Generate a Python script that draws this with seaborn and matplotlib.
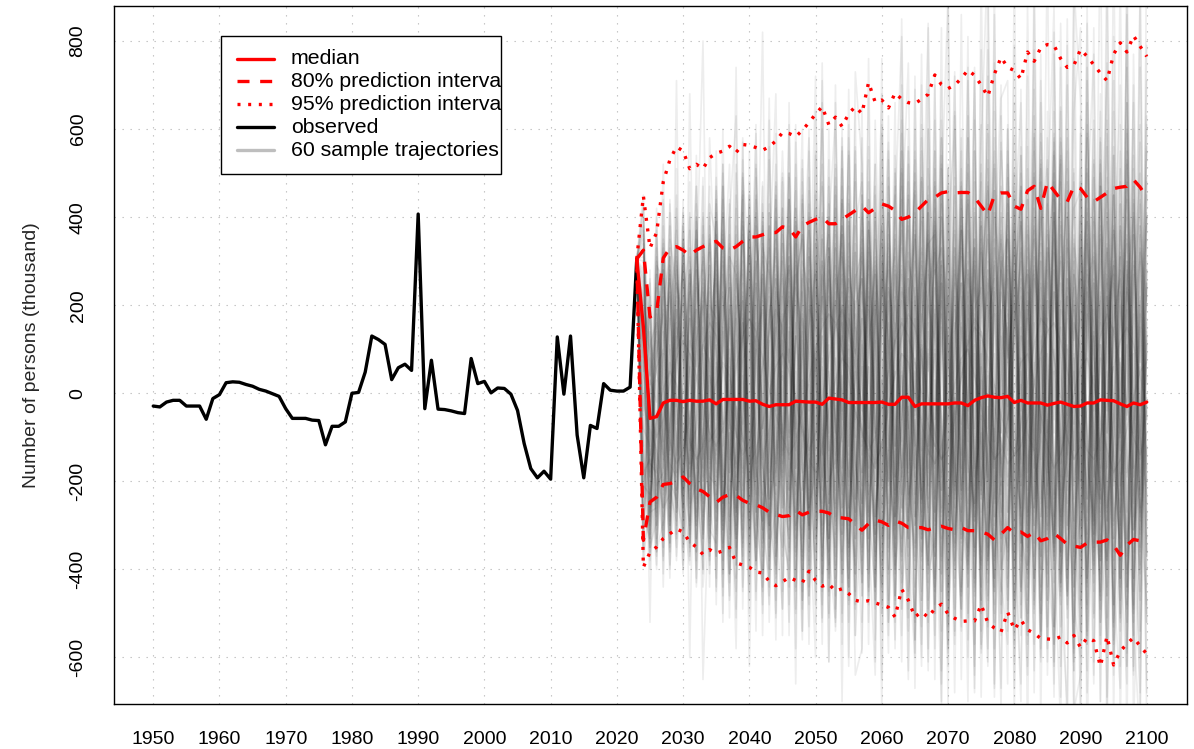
import numpy as np
import pandas as pd
import matplotlib
matplotlib.use("Agg")
import matplotlib.pyplot as plt
import seaborn as sns
from matplotlib.patches import Rectangle
from matplotlib.lines import Line2D

# ---------------------------------------------------------------- data
# Net migration, thousands of persons
obs_years = list(range(1950, 2024))
observed = [-29, -31, -20, -16, -16, -29, -29, -29, -59, -12,
            -3, 24, 26, 25, 20, 16, 9, 5, -1, -7,
            -35, -57, -57, -57, -61, -62, -117, -75, -75, -65,
            0, 2, 48, 130, 122, 111, 31, 58, 66, 52,
            407, -35, 75, -36, -37, -40, -44, -46, 79, 22,
            27, 1, 12, 11, -2, -39, -114, -171, -192, -177,
            -195, 128, -2, 130, -95, -192, -73, -80, 22, 7,
            5, 5, 14, 305]

proj_years = list(range(2024, 2101))
median = [150, -57, -53, -22, -16, -16, -19, -16, -18, -18, -15,
          -24, -14, -14, -14, -14, -18, -17, -25, -30, -26, -26,
          -26, -18, -19, -20, -20, -25, -11, -13, -15, -21, -21,
          -21, -21, -21, -20, -25, -25, -9, -9, -30, -24, -24,
          -24, -24, -24, -22, -22, -28, -16, -10, -6, -9, -10,
          -7, -21, -16, -22, -22, -22, -27, -23, -20, -25, -30,
          -29, -22, -22, -15, -16, -17, -24, -30, -22, -26, -20]
pi80_upper = [325, 173, 185, 307, 330, 333, 325, 313, 325, 333, 340,
              345, 330, 325, 333, 345, 355, 355, 360, 365, 365, 378,
              375, 355, 380, 388, 395, 400, 385, 385, 395, 405, 415,
              425, 410, 420, 430, 425, 415, 395, 400, 410, 425, 440,
              445, 455, 458, 455, 456, 456, 445, 425, 405, 450, 455,
              455, 425, 418, 460, 470, 420, 480, 460, 440, 435, 470,
              465, 445, 435, 445, 455, 465, 468, 470, 485, 468, 445]
pi80_lower = [-334, -247, -236, -207, -205, -200, -190, -205, -217, -223, -235,
              -248, -236, -230, -232, -243, -250, -253, -260, -270, -275, -280,
              -278, -266, -276, -270, -268, -268, -272, -282, -283, -285, -298,
              -311, -296, -288, -292, -300, -290, -295, -305, -305, -305, -310,
              -305, -302, -307, -310, -305, -312, -312, -315, -320, -333, -320,
              -305, -318, -315, -325, -316, -335, -330, -318, -330, -343, -347,
              -350, -340, -338, -338, -333, -345, -368, -345, -332, -335, -338]
pi95_upper = [448, 330, 365, 480, 530, 560, 550, 510, 520, 510, 535,
              545, 550, 561, 547, 565, 563, 558, 552, 560, 573, 592,
              590, 583, 597, 615, 634, 651, 610, 627, 606, 635, 651,
              635, 706, 661, 666, 648, 682, 668, 660, 658, 668, 679,
              723, 701, 692, 700, 715, 734, 722, 700, 674, 725, 763,
              740, 733, 714, 775, 754, 785, 792, 790, 760, 740, 745,
              781, 765, 746, 727, 710, 770, 796, 775, 812, 788, 765]
pi95_lower = [-395, -361, -349, -330, -319, -308, -315, -338, -349, -366, -355,
              -363, -358, -350, -385, -390, -395, -406, -408, -427, -437, -428,
              -418, -425, -430, -404, -425, -438, -433, -449, -444, -455, -470,
              -474, -471, -476, -481, -486, -508, -445, -470, -508, -496, -509,
              -489, -479, -501, -511, -518, -517, -517, -480, -521, -533, -542,
              -497, -537, -515, -537, -545, -557, -558, -559, -553, -567, -550,
              -577, -555, -562, -620, -552, -617, -586, -569, -555, -574, -592]

# Sample trajectories 2024-2100, tens of thousands of persons
trajectories = [
    "-12 25 -30 8 41 -5 -22 17 -40 33 2 | -18 50 -9 -33 12 27 -45 6 38 -21 15 | 44 -8 -27 19 -52 30 3 -16 61 -35 10 | -4 22 -48 37 -13 9 55 -29 -2 26 -61 | 14 40 -19 -7 33 -38 71 -24 5 -50 28 | 12 -31 47 -15 -42 20 8 -66 39 -3 24 | -20 58 -36 11 -9 45 -54 30 2 -27 16",
    "35 -20 -8 22 -14 30 -3 -25 11 40 -17 | 6 -36 24 -10 45 -28 13 -2 -44 29 8 | -15 37 -6 -31 20 52 -23 -9 16 -47 34 | 3 -19 41 -33 12 -58 27 7 -12 49 -26 | 18 -5 -40 63 -21 10 -35 24 46 -17 -8 | 31 -49 15 2 -27 57 -12 -38 21 9 -63 | 36 -14 -29 50 7 -41 23 -6 66 -32 11",
    "18 9 -31 -4 27 -18 35 6 -29 -11 24 | -37 15 31 -22 -6 40 -13 -48 19 3 -26 | 28 -10 45 -35 8 -19 33 -54 12 26 -7 | -43 20 -2 38 -25 16 -11 60 -30 -16 43 | -6 25 -57 14 37 -3 -28 52 -19 -45 30 | 8 21 -34 44 -9 -60 33 12 -22 70 -41 | 5 -24 39 -52 18 29 -11 -37 48 -15 -3",
    "-28 -33 14 31 -9 19 -26 28 3 -15 36 | 12 -19 -41 27 9 -24 51 -16 -31 14 42 | -22 5 -38 26 -13 47 -3 -29 58 -20 2 | 17 -46 23 -8 31 -37 11 44 -24 -53 20 | 39 -18 7 -31 55 -44 16 -6 28 -69 41 | -27 13 50 -39 4 24 -53 35 -16 -4 48 | -33 61 -10 -47 26 -21 43 -58 15 32 -25",
    "42 5 -17 -26 33 -7 12 -37 25 8 -21 | 47 -12 3 -39 18 -27 35 22 -14 -50 11 | 31 -44 17 9 -26 -1 40 -35 23 -12 55 | -30 6 -17 46 -41 29 -20 8 53 -36 14 | -49 27 11 -24 42 -10 -62 19 36 -28 5 | 60 -20 -45 17 29 -7 -32 54 -43 22 1 | -56 34 14 -22 -40 71 -9 27 -48 19 40",
    "8 -26 21 -12 -34 25 17 -8 -22 38 -5 | -16 29 -33 10 38 -4 -20 43 -37 21 -9 | -52 24 36 -17 11 -43 28 -6 -21 39 -30 | 45 -12 -34 20 -3 51 -27 -15 36 -8 -47 | 22 58 -33 -11 25 -50 30 -2 -41 64 -19 | -8 35 -26 -55 40 11 -21 47 -30 -12 27 | 15 -43 52 -17 33 -64 20 -5 41 -29 -12",
    "25 -12 30 15 -21 -14 29 -31 40 -19 7 | 33 -46 19 -8 -28 31 4 -17 56 -24 -35 | 12 46 -20 -39 34 -14 7 52 -45 18 -3 | -21 37 9 -50 24 -35 62 -10 -28 15 34 | -37 5 44 -16 -29 71 -25 3 -52 30 12 | -44 26 39 -18 -2 -37 58 -23 15 -51 34 | 22 -9 -38 47 -26 10 55 -41 -14 36 -20",
    "-5 14 -24 33 -3 -27 10 23 -36 2 29 | -24 8 43 -30 21 -12 -38 27 5 -19 49 | -8 -31 22 58 -27 13 -40 21 -11 31 -49 | 26 -4 -41 30 13 -22 -7 39 -56 27 -14 | 9 -41 31 -21 48 -13 -36 16 59 -38 -6 | 18 -55 7 33 -24 45 -12 -35 65 -16 -40 | -28 46 -19 8 -57 38 -2 30 -45 13 56",
    "30 -8 -13 -20 18 33 -16 5 19 -28 -10 | 16 -29 -5 36 -18 23 41 -33 -9 15 -26 | 38 -17 3 -46 27 -30 60 -14 4 -37 21 | -12 53 -30 -6 41 -19 21 -45 11 33 -39 | 51 -14 -27 36 -7 17 -45 38 -20 2 -55 | 35 9 -30 -64 27 16 -9 41 -36 24 -15 | 48 -34 25 -12 -29 54 -44 19 -3 -36 30",
    "-35 -3 6 10 -30 8 42 -19 -6 24 -33 | 3 37 -22 -14 50 -36 10 -23 30 -4 18 | -28 13 -49 31 5 22 -18 -37 44 -1 -24 | 35 -33 16 53 -20 5 -38 26 -9 -45 60 | -16 30 -50 2 37 -32 11 -23 47 -44 19 | -3 42 -19 27 -48 6 33 -28 -10 55 -36 | 4 27 -51 36 -17 -6 31 -62 43 -23 9",
    "12 20 -36 -9 25 -32 3 31 -14 -24 40 | -31 10 25 -42 7 14 -27 39 -18 44 -13 | 21 -5 -33 15 42 -48 26 -7 -30 58 9 | -38 19 -9 24 -52 40 3 -23 17 -31 47 | -27 62 -9 -38 19 30 -49 8 23 -15 40 | -52 17 26 -33 59 -21 -44 12 30 -7 -58 | 39 -15 -30 64 -38 20 -8 -45 26 50 -33",
    "-18 -15 -27 26 9 -10 -22 14 35 -6 16 | 28 -20 -37 17 -11 45 -6 -31 12 -47 34 | -13 30 8 -26 -18 35 -41 49 -2 -19 27 | 11 -27 45 -39 8 28 -15 -54 36 -2 22 | 33 -22 15 -57 44 -4 24 -31 -12 52 -27 | 28 -36 -8 51 -17 32 -61 23 7 -42 19 | -47 20 8 -24 41 -56 15 34 -19 -8 45",
    "38 -30 12 -17 -6 21 -9 -24 28 13 -36 | -9 41 -15 22 -35 6 30 -12 -40 26 3 | 44 -23 -11 37 -6 -27 13 33 -50 21 -16 | -25 8 31 -20 36 -46 17 -5 48 -33 -10 | 24 -6 -44 28 13 -37 55 -21 -3 -33 63 | -14 45 -38 19 -3 -50 37 15 -28 40 -21 | 12 -54 31 17 -40 25 -13 48 -31 22 -6",
    "2 -35 27 4 -25 12 22 -13 -8 31 -19 | -21 16 34 -8 -29 48 -19 7 24 -33 -7 | -36 14 51 -22 9 -38 -4 27 15 -42 38 | 48 -16 -28 4 21 -9 -41 56 -19 10 -26 | -44 33 20 -13 -51 37 -8 42 -26 18 -9 | 46 -24 13 -47 35 -9 21 -53 43 -14 5 | -21 66 -25 -38 13 29 -47 6 54 -35 17",
    "22 10 -22 35 14 -24 -31 27 -17 -9 23 | 9 -34 20 -26 34 -15 -7 38 -28 12 31 | -19 39 -29 2 -45 24 36 -17 -9 47 -33 | 6 -41 27 12 -30 45 -23 -12 30 -57 35 | 16 -28 51 -34 8 -18 29 -47 35 7 -40 | -31 20 -4 37 -26 53 -14 -36 19 -5 51 | -38 9 44 -31 22 -15 -36 59 -10 -47 28",
    "-39 -22 -4 -14 31 -3 16 -34 12 21 -28 | 36 -10 -43 29 3 -21 24 -35 41 -16 8 | 26 -42 18 -14 31 -8 -33 45 -26 11 -7 | -35 29 -12 -45 18 33 -6 24 -37 42 -18 | 40 -11 -36 47 -23 -3 33 -58 14 29 -16 | -6 33 -51 8 28 -40 46 -18 -37 26 12 | 29 -42 7 53 -27 -12 38 -33 -22 61 -44",
    "15 -6 33 -23 -11 29 -20 9 -27 36 5 | -27 22 8 -35 41 -31 13 19 -10 -39 27 | 7 29 -40 43 -23 17 -11 -30 36 -5 -48 | 23 -8 39 -26 -13 -33 50 -18 5 -22 41 | -30 21 -6 25 -45 50 -19 -9 -38 46 -23 | 41 -14 22 -28 -7 43 -26 57 -45 10 -29 | -13 35 -45 21 -4 45 -28 -52 30 7 38",
    "33 -18 -9 19 -32 15 7 -21 39 -12 -24 | 20 -40 29 -5 -17 37 -26 -42 16 33 -21 | -31 16 -5 -27 54 -37 22 8 -20 30 14 | -46 13 21 -37 28 -4 -26 37 -51 18 5 | 32 -41 14 -22 37 -31 42 -15 4 -52 31 | -19 50 -37 31 -13 -28 9 -40 52 -22 36 | -5 23 -34 38 -58 17 26 -18 44 -39 -1",
    "-22 22 -16 -28 6 33 -13 20 -3 -20 34 | -14 6 -28 45 -22 10 -33 26 -3 18 -45 | 50 -13 27 -36 -12 41 -25 -2 -43 24 -10 | 37 -22 -47 34 9 -12 28 -29 22 -40 16 | -12 46 -28 -5 31 -56 19 24 -33 -4 57 | 24 -26 8 -44 63 -11 -31 28 -9 -46 20 | -31 50 -8 -22 34 -48 61 -14 -33 21 -17",
    "40 -28 7 28 -16 -19 35 -9 -30 15 -2 | 25 -19 40 -32 16 -8 -23 47 -30 -12 22 | -22 34 -47 15 28 -15 -36 19 38 -28 5 | -10 44 -15 27 -40 22 -8 -33 60 -25 -13 | 55 -33 8 19 -27 12 -42 35 -20 41 -36 | 7 -40 32 -20 16 -55 30 48 -24 -15 42 | 46 -27 19 -55 7 30 -21 -7 36 -60 25",
    "-8 -12 -30 12 23 -8 -26 37 -14 -31 18 | -36 31 -6 -17 27 -40 44 -4 -24 39 -19 | 14 -27 6 40 -33 22 -6 -46 27 -14 52 | -28 33 -1 -44 16 -19 40 -6 -34 25 -49 | -23 18 -47 40 -14 28 3 -39 51 -25 13 | -42 37 -16 23 -34 8 -47 39 5 -30 -10 | 19 -11 -41 28 46 -33 -4 40 -28 15 -52",
    "27 15 -19 -33 11 -27 20 -16 31 -4 -29 | 11 -25 17 33 -38 24 -16 -29 35 -7 -32 | -40 21 -18 -10 45 -20 31 -32 -5 38 -24 | 19 -30 47 -18 5 -48 24 15 -23 3 36 | -35 9 33 -42 22 -8 -29 61 -31 -12 28 | 36 -3 -45 17 38 -24 -6 -33 54 -25 -2 | -54 28 15 -36 -15 56 -23 11 -42 33 21",
    "10 -31 18 1 -20 24 -33 12 6 26 -15 | 39 -15 -32 8 21 -45 30 11 -20 -6 40 | 4 -36 30 23 -28 8 -50 34 -17 20 -41 | 41 -9 -20 31 -36 12 33 -49 7 -27 20 | 12 -54 26 -4 -33 44 -17 5 28 -48 35 | -21 15 56 -39 3 30 -18 -53 22 46 -37 | 33 -40 -19 45 -29 6 -51 24 12 -26 48",
    "-31 3 -2 24 -35 10 14 -29 24 -17 32 | -23 44 -12 -27 12 31 -38 5 28 -37 15 | 29 -9 -43 37 -1 -31 19 42 -36 8 -15 | -32 24 -5 -39 49 -28 9 -17 41 -12 -40 | 48 -22 -13 33 -46 20 -35 39 -8 24 -21 | 16 -47 24 -12 -30 52 -39 10 -19 33 -44 | -7 42 -32 11 -46 37 18 -44 27 -10 -36",
    "19 -24 24 -20 17 -14 29 4 -38 11 7 | -32 19 27 -19 -4 36 -21 -37 22 10 -28 | 37 -17 12 -30 24 -45 33 -9 20 -26 32 | -18 39 -32 8 -21 36 -43 26 -5 49 -24 | -8 37 -30 14 25 -39 9 -24 42 -17 -50 | 55 -29 -8 40 -20 -11 36 -27 -48 30 8 | -26 15 49 -38 27 -20 -7 53 -31 -12 24",
    "28 -10 -37 7 29 -3 -18 25 -12 -25 20 | 17 -3 -41 30 -25 17 11 -16 -33 45 -8 | -27 42 -6 -20 34 -12 -28 51 -41 17 9 | 30 -45 16 38 -9 -23 5 -37 27 -6 44 | -29 52 -18 -35 10 45 -21 -5 -39 20 36 | -33 27 -14 -54 31 20 -28 44 -14 -3 -55 | 40 -32 4 -15 39 -53 31 -19 -6 57 -28",
    "5 18 -14 -22 -7 28 9 -34 20 30 -11 | -8 27 -20 12 -34 40 -27 21 -12 -23 37 | 12 -49 23 -33 7 27 -20 -15 43 -29 -3 | -14 6 -38 22 43 -31 -18 52 -28 11 -21 | 19 -26 40 -54 16 -3 33 -47 25 -11 46 | -6 38 -28 12 -49 25 4 -31 48 -38 16 | 10 -48 36 -24 5 -30 43 -11 -55 38 2",
    "-15 -29 9 18 -29 16 -23 8 33 -15 -37 | 43 -30 8 -22 25 -11 -35 34 6 -18 12 | -10 26 35 -41 12 -22 39 -8 -32 22 -46 | 12 -21 30 -50 24 15 -36 3 39 -47 28 | -48 15 -9 45 -32 23 -14 -40 53 -24 4 | 29 -18 46 -30 7 -40 19 55 -33 -9 27 | -20 59 -27 -41 22 -4 -35 28 -17 44 -30",
    "36 -2 27 -11 22 -22 1 -19 -9 23 16 | -19 35 -31 4 16 -29 25 -8 38 -41 -2 | 23 -35 -2 28 -43 36 -13 23 -6 -34 41 | -41 37 -9 -22 33 -12 47 -24 -13 32 -35 | 38 -45 22 -23 -6 58 -29 12 -47 35 -14 | -38 10 33 -22 42 -16 -41 23 -1 60 -24 | 26 -7 -32 47 -37 14 28 -59 18 -22 40",
    "-25 8 -25 31 -13 6 31 -26 -20 9 -30 | 30 -7 20 -37 -10 43 -17 -31 18 27 -23 | -33 11 44 -26 19 -5 -39 29 17 -44 20 | 26 -28 5 44 -35 20 -19 -7 50 -28 9 | -17 29 -39 8 47 -25 -6 33 -15 -42 23 | 13 -52 18 28 -37 -5 47 -24 31 -45 9 | -42 24 11 -27 56 -18 -33 36 -4 -28 13",
    "45 -36 3 -30 38 -18 12 40 -24 -1 27 | -45 21 52 -14 -33 8 59 -22 -48 31 -3 | 61 -19 -36 14 72 -41 5 -28 36 -60 18 | -11 67 -45 29 -4 -56 38 75 -30 12 -52 | 70 -8 -62 33 -24 81 -37 9 -58 46 -15 | -47 66 -21 -3 78 -55 25 -40 84 -16 -61 | 63 -49 30 -70 89 -12 -38 55 -63 74 -21",
    "-38 28 -33 44 -26 51 -35 22 47 -40 58 | 18 -50 40 63 -37 -12 45 -55 29 68 -28 | -42 57 -15 -53 40 22 -61 66 -9 -44 73 | 52 -31 -64 48 10 -47 85 -19 -38 61 -7 | -55 44 91 -27 -49 26 -68 57 100 -42 13 | 38 -73 54 -36 96 -15 -58 40 -24 -77 93 | -30 88 -61 16 -44 102 -35 -66 47 -18 79",
    "14 -33 42 -37 10 -38 44 -35 8 49 -44 | 55 -27 -9 -58 49 30 -39 -6 67 -51 22 | 29 -66 48 -31 -8 60 -45 21 -70 44 -12 | -59 39 16 -72 55 -28 -8 48 -67 27 83 | -21 -70 37 60 -44 -11 74 -59 -35 86 -48 | 60 -28 -66 38 -50 71 -3 -69 58 33 -72 | -64 43 77 -52 -28 64 -76 23 -49 95 -40",
    "31 -17 -40 28 -31 45 -12 -4 -33 19 35 | -10 47 -25 20 -44 -18 38 12 -35 -27 50 | -26 9 60 -38 35 -25 47 -53 14 54 -33 | 45 -52 27 -14 63 -40 -23 30 22 -60 51 | 27 33 -44 -9 58 -51 41 -14 -61 30 70 | -54 22 47 -62 12 40 -31 77 -46 17 -33 | 51 -10 -66 28 71 -38 -19 79 -52 6 -68",
    "-12 -38 -8 52 -22 -29 26 -30 54 -33 -5 | 33 -38 15 -49 57 -33 8 48 -40 40 -14 | 50 -30 -21 55 -16 -52 33 -2 -38 61 -55 | -24 30 -61 40 -33 54 9 -46 69 -21 -39 | 44 -66 18 72 -29 -36 55 -22 43 -67 8 | 23 -41 69 -19 -57 48 -14 -34 64 -56 30 | -45 71 -9 -46 32 -61 48 -2 70 -54 35",
    "9 -4 -10 -6 2 8 12 9 4 -3 -9 | -12 -8 -1 6 13 17 14 8 1 -5 -10 | -14 -11 -4 3 10 15 18 16 10 3 -4 | -9 -13 -10 -3 5 12 16 13 7 0 -7 | -12 -15 -11 -4 4 11 15 13 8 2 -5 | -10 -14 -12 -6 2 9 14 16 12 5 -2 | -8 -13 -15 -10 -2 6 12 15 11 4 -3",
    "20 12 5 -3 -11 -16 -13 -6 3 11 16 | 13 6 -2 -9 -14 -11 -3 6 14 19 15 | 7 -1 -8 -13 -9 -1 8 15 19 14 6 | -3 -11 -16 -12 -4 5 13 18 15 8 -1 | -9 -15 -13 -6 3 12 17 14 6 -3 -11 | -16 -14 -7 2 11 17 15 8 -1 -10 -15 | -12 -4 5 13 18 14 6 -3 -10 -14 -9",
    "-20 -14 -6 1 5 2 -4 -11 -15 -12 -5 | 2 7 4 -3 -10 -16 -13 -7 0 6 9 | 5 -2 -9 -15 -18 -12 -4 3 8 6 -1 | -8 -14 -17 -11 -3 4 9 7 0 -7 -13 | -16 -12 -5 2 8 10 4 -3 -10 -15 -13 | -6 1 7 9 3 -5 -12 -17 -14 -7 0 | 6 8 2 -6 -13 -18 -15 -8 -1 5 7",
    "24 -40 35 -12 -36 22 -27 -39 37 5 -22 | 7 -31 36 -16 28 -50 20 -15 -8 42 -37 | -17 38 -54 24 3 -35 49 -25 32 -9 -41 | 33 -17 52 -32 -15 27 -55 17 -4 39 -28 | -37 51 -16 27 -53 10 35 -48 20 -28 55 | -9 32 -51 60 -26 -7 32 -20 -44 41 -13 | 17 -57 26 -13 49 -33 8 -49 24 43 -50",
    "-2 -9 -21 -18 31 -30 5 28 -21 -37 41 | -29 14 -18 26 5 -37 35 -41 20 -2 -49 | 44 -8 28 -44 -27 13 -9 37 -52 26 19 | -31 48 -21 3 -47 21 37 -12 -40 55 -6 | 10 -31 47 -39 15 -16 -26 48 -37 9 -45 | 49 -20 5 -33 26 -61 43 -9 36 -27 -44 | 33 12 -43 57 -21 -48 37 -27 9 -40 61",
    "16 2 40 -41 15 37 -34 -13 28 -41 13 | -42 52 -3 -31 44 -21 -9 31 -28 -40 36 | -15 -21 39 8 -48 30 -14 -39 55 -17 -27 | 26 -3 -36 61 -18 -30 44 -35 8 -13 45 | -58 25 -3 31 -34 63 -11 -44 26 18 -32 | 15 -46 39 -9 -13 34 -56 21 53 -31 8 | -33 39 -17 -25 62 -29 -15 44 -36 -7 25",
    "39 -27 -26 9 -40 -11 21 33 -43 25 -16 | 27 -22 -46 38 -13 25 -47 15 33 -21 5 | -35 52 -22 -9 27 -43 18 6 -26 34 -12 | -43 10 28 -25 39 -5 -49 22 35 -37 -16 | 28 -7 -52 37 -22 43 -31 6 -19 58 -29 | -35 51 -21 28 -47 13 -30 59 -13 -40 28 | -15 -35 53 -20 -33 15 -42 66 -9 20 -37",
    "-33 11 16 -31 44 1 -41 6 -28 41 -34 | 44 -41 24 -6 -40 35 12 -34 -19 52 -16 | 15 -45 4 46 -31 -8 31 -40 44 -3 -30 | 11 -40 35 -8 -29 50 -17 -3 -56 29 20 | -45 43 9 -16 -38 27 -57 32 11 -45 37 | 7 24 -32 -41 55 -25 17 -43 38 -19 50 | -48 18 -4 35 -51 27 -6 -34 51 -45 12",
    "7 -19 29 26 -17 -35 38 -22 15 -33 4 | -3 30 -36 50 -26 -4 40 -29 -11 23 -43 | 34 -1 -37 20 14 -51 43 -16 -23 39 -6 | 40 -33 12 -54 8 35 -26 45 -10 -38 27 | -24 54 -35 22 -8 -44 48 -27 -14 51 -17 | -40 28 17 -52 37 -4 -36 50 -27 11 -63 | 26 -29 44 -38 16 -57 38 13 -42 30 -14",
    "-21 -23 -11 38 -28 31 -7 -17 40 -8 -41 | 21 -9 10 -27 36 -43 28 37 -46 7 26 | -48 24 15 -33 39 -21 -30 47 -11 -36 48 | -18 27 -44 15 30 -41 55 -33 21 -6 -43 | 37 -19 25 -49 46 -5 -28 38 -53 23 -1 | 35 -57 12 44 -19 -37 28 -6 57 -49 21 | -11 51 -39 22 -9 45 -52 29 -25 -4 55",
    "32 16 -34 -15 7 -22 32 -38 -4 34 -25 | -37 47 -18 -3 -21 28 -16 -9 41 -34 16 | 22 -37 43 -11 -40 35 5 -22 26 -48 32 | -36 44 -7 -30 41 -15 -37 19 46 -24 10 | -12 30 -59 9 40 -22 18 -38 30 -10 -54 | 52 -6 -30 27 -42 59 -18 32 -41 -5 35 | -37 24 32 -57 45 -15 -27 60 -31 -20 41",
    "-10 -34 20 -26 -23 40 -19 17 -33 -14 38 | 12 -25 44 -33 22 -14 -38 41 -5 -28 48 | -9 13 -31 49 -25 6 -46 36 -4 29 -37 | 50 -23 -15 34 -49 14 29 -21 -35 40 -27 | 42 -38 13 -26 51 -41 28 -3 -46 33 18 | -27 47 -44 21 -1 -44 51 -37 20 35 -46 | 44 -42 -7 23 -46 54 -19 -40 36 -10 -23",
    "26 -14 9 34 -39 13 -29 30 11 -36 21 | -44 15 -8 42 -31 37 -25 -45 16 35 -9 | 40 -27 -14 31 -36 19 40 -49 13 -21 56 | -6 32 -49 26 12 -52 23 -8 45 -32 -19 | 20 -48 37 -4 -33 58 -25 43 -22 -37 47 | -13 16 30 -35 49 -28 -11 41 -53 26 -7 | 59 -24 14 -49 33 -3 -30 52 -20 -41 28",
    "-26 1 -28 -6 35 24 -13 -32 33 -20 -3 | 39 -31 17 -39 4 -24 49 -17 -30 24 13 | -29 36 -45 8 30 -32 11 -26 51 -40 7 | 31 -12 19 -43 53 -28 -6 32 -59 16 37 | -50 17 51 -32 -12 32 -44 22 48 -13 -33 | 19 -38 54 -8 -30 12 -47 64 -21 -46 33 | -22 36 -50 18 59 -36 7 -23 -50 47 -6",
    "13 -16 -18 14 -8 -26 41 -5 -25 20 -38 | 26 -7 -29 15 46 -35 -4 27 -24 -17 42 | -44 27 3 -24 46 -10 -33 20 34 -52 15 | -25 41 -32 3 -20 47 -33 12 -25 58 -38 | 3 -27 33 -55 25 -11 40 -50 17 26 -40 | 43 -17 -26 36 -10 -54 21 8 -36 51 -20 | -9 -44 40 -28 -10 37 -62 24 40 -25 -48",
    "43 -32 37 -9 -30 71 -36 41 -30 12 47 | -48 36 -5 -37 58 -20 35 -50 8 48 -27 | 59 -40 26 -57 12 66 -33 -18 47 -62 38 | -46 76 -28 -11 -59 42 81 -37 -60 70 -17 | 55 -63 90 -40 7 -70 62 -23 78 -58 -10 | -66 97 -34 -8 58 -74 42 88 -46 -71 64 | 83 -57 -20 109 -69 36 -42 92 -75 -26 71",
    "-36 -26 25 -44 28 -33 38 -16 47 -44 -22 | 46 -52 31 27 -45 55 -14 -40 62 -30 -49 | -7 49 -54 33 -36 75 -51 8 -41 69 -29 | 58 -44 13 68 -52 -20 59 -63 24 -31 84 | -42 29 -71 73 -17 45 -64 96 -38 -22 67 | 71 -49 38 -77 50 -15 101 -57 -33 79 -48 | -60 74 -35 58 -81 47 -10 86 -53 -79 106",
    "4 -2 -39 21 31 -37 -15 22 37 -27 8 | -13 52 -41 -16 39 11 -54 41 -33 26 -20 | 49 -11 -47 60 -33 -19 53 -42 20 -30 64 | -52 15 52 -35 -16 66 -45 -29 55 10 -63 | 62 -37 -12 49 -65 28 15 -57 72 -30 -20 | -49 35 66 -42 -25 77 -64 5 -29 85 -52 | 47 -68 25 -18 75 -60 -35 66 -9 -72 49",
    "34 4 14 -35 -5 42 -23 -36 19 -32 43 | 35 -17 -24 52 -12 -47 16 -26 53 -42 4 | -38 61 -9 -30 23 -57 38 63 -20 -46 26 | 32 -57 41 -21 47 -9 -61 38 -17 77 -41 | -33 71 -46 16 -22 52 -43 -8 61 -66 34 | 8 -61 43 -27 69 -47 -20 58 -69 40 -14 | -71 12 60 -45 -13 81 -50 35 -64 18 -37",
    "-17 -37 -23 43 -34 17 28 -10 -42 47 -12 | -26 23 -51 34 -7 45 -30 30 -52 13 55 | 17 -50 36 -4 55 -44 -25 33 -57 43 -16 | -31 56 -8 -48 34 -25 67 -6 -44 30 -58 | 47 -16 -58 64 -29 -40 35 -69 18 55 -25 | -36 79 -22 -57 20 51 -38 -57 74 -30 3 | 36 -55 83 -31 -57 22 70 -48 -12 91 -65",
    "21 -52 31 2 -42 34 -31 68 -16 -40 29 | 5 -44 33 -28 17 -31 52 -8 43 -37 -12 | 31 -19 -56 41 -21 29 -8 -51 56 -25 -39 | 65 -36 29 -65 23 -39 51 -27 -6 -47 69 | -65 40 -3 -44 86 -35 -12 50 -43 75 -9 | 46 -22 -55 88 -12 -33 64 -61 -3 58 -77 | 20 41 -64 52 -38 -16 95 -44 29 -59 63",
    "-30 -11 19 -15 26 -13 -40 48 -36 28 -39 | 41 -35 -14 74 -49 20 -40 33 27 -56 30 | -28 39 -17 -48 64 -3 -42 70 -32 10 -55 | 17 -48 62 4 -55 31 -21 -51 72 -24 41 | -27 83 -53 -21 60 -60 33 -36 90 -12 -67 | 26 -31 -70 56 -45 66 -2 -62 25 -48 76 | -74 39 -13 68 -71 -6 51 -78 60 -31 -4",
    "11 -35 -29 32 -20 -24 34 -60 26 80 -31 | -34 60 -28 -45 23 -9 61 -44 -14 47 -55 | 66 -33 14 -25 -60 48 -25 26 -6 55 -45 | -17 37 -56 59 -10 -40 70 -31 -52 48 -12 | 72 -45 22 -68 38 -8 73 -54 -26 91 -43 | -57 44 -15 72 -68 30 -23 82 -43 -19 93 | 66 -80 13 -37 104 -52 -26 74 -62 38 -75",
    "37 -19 -6 -38 43 -1 -28 27 -44 -10 14 | -6 40 -47 18 30 -62 7 82 -38 -4 34 | -55 42 21 -46 -2 40 -61 15 38 -35 5 | 43 -27 -44 21 57 -46 4 -65 37 -33 60 | -50 58 -28 -1 -54 74 -46 14 -62 40 27 | -10 58 -48 17 -63 37 53 -34 -76 48 -27 | -54 84 -40 -9 46 -73 32 -62 77 -5 -52",
    "-4 26 -36 -29 -11 19 -39 -15 43 -65 -19 | 49 -28 6 -51 53 -38 25 -31 -42 59 -18 | 10 -58 53 -15 -43 71 -36 -52 31 18 -64 | -58 23 -37 76 -40 12 -49 55 -15 -62 34 | 36 -71 52 -14 -49 22 -67 78 -35 -8 -72 | 61 -67 2 -50 89 -58 -14 46 -62 22 -59 | 9 -63 62 -70 25 -44 -67 101 -22 -68 14",
]

legend_labels = ["median", "80% prediction interval", "95% prediction interval",
                 "observed", "60 sample trajectories"]
x_ticks = list(range(1950, 2101, 10))
y_ticks = list(range(-600, 801, 200))
y_title = "Number of persons (thousand)"

# ---------------------------------------------------------------- frames
start_year, start_value = obs_years[-1], observed[-1]

rows = []
for k, s in enumerate(trajectories):
    vals = [int(v) * 10 for v in s.replace("|", " ").split()]
    yrs = [start_year] + proj_years[:len(vals)]
    vals = [start_value] + vals
    rows.append(pd.DataFrame({"year": yrs, "value": vals, "traj": k}))
traj_df = pd.concat(rows, ignore_index=True)

obs_df = pd.DataFrame({"year": obs_years, "value": observed})
band_years = [start_year] + proj_years


def band(values):
    return pd.DataFrame({"year": band_years, "value": [start_value] + list(values)})


# ---------------------------------------------------------------- style
sns.set_style("white")
plt.rcParams["font.family"] = ["Liberation Sans", "DejaVu Sans"]

W, H = 1194, 749
fig = plt.figure(figsize=(W / 100, H / 100), dpi=100)
L, R, T, B = 113.5, 1186.5, 6.0, 703.5
ax = fig.add_axes([L / W, 1 - B / H, (R - L) / W, (B - T) / H])

RED = "#ff0000"
LW = 2.4
DASH = (0, (3.6, 3.2))
DOT = (0, (0.9, 2.3))
TRAJ_COLOR = "#1e1e1e"

# grid
for xv in x_ticks:
    ax.axvline(xv, color="#bdbdbd", lw=0.8, ls=(0, (1.2, 6)), zorder=0)
for yv in y_ticks:
    ax.axhline(yv, color="#bdbdbd", lw=0.8, ls=(0, (1.2, 6)), zorder=0)

# trajectories
sns.lineplot(data=traj_df, x="year", y="value", units="traj", estimator=None,
             color=TRAJ_COLOR, alpha=0.08, linewidth=1.2, ax=ax, legend=False,
             zorder=1)

# observed
sns.lineplot(data=obs_df, x="year", y="value", color="black", linewidth=LW,
             ax=ax, legend=False, zorder=3)

# prediction bands and median
sns.lineplot(data=band(pi95_upper), x="year", y="value", color=RED, linewidth=LW,
             linestyle=DOT, ax=ax, legend=False, zorder=4)
sns.lineplot(data=band(pi95_lower), x="year", y="value", color=RED, linewidth=LW,
             linestyle=DOT, ax=ax, legend=False, zorder=4)
sns.lineplot(data=band(pi80_upper), x="year", y="value", color=RED, linewidth=LW,
             linestyle=DASH, ax=ax, legend=False, zorder=4)
sns.lineplot(data=band(pi80_lower), x="year", y="value", color=RED, linewidth=LW,
             linestyle=DASH, ax=ax, legend=False, zorder=4)
sns.lineplot(data=band(median), x="year", y="value", color=RED, linewidth=LW,
             ax=ax, legend=False, zorder=5)

# axes
ax.set_xlim(1944, 2106)
ax.set_ylim(-704.5, 879.5)
ax.set_xticks(x_ticks)
ax.set_yticks(y_ticks)
ax.set_xticklabels([str(v) for v in x_ticks])
ax.set_yticklabels([str(v) for v in y_ticks], rotation=90, va="center")
ax.tick_params(axis="both", direction="out", length=10, width=1.0,
               color="black", labelsize=14, labelcolor="black")
ax.tick_params(axis="x", pad=9.5)
ax.tick_params(axis="y", pad=9.4)
ax.set_xlabel("")
ax.set_ylabel(y_title, fontsize=14, labelpad=21)
for sp in ax.spines.values():
    sp.set_visible(True)
    sp.set_color("black")
    sp.set_linewidth(1.0)


# legend box built in pixel positions
def ax_xy(px, py):
    return (px - L) / (R - L), (B - py) / (B - T)


x0, y0 = ax_xy(221, 174)
x1, y1 = ax_xy(501, 36)
box = Rectangle((x0, y0), x1 - x0, y1 - y0, transform=ax.transAxes,
                facecolor="white", edgecolor="black", lw=1.0, zorder=10)
ax.add_patch(box)

row_y = [58.5, 81.3, 104.2, 127.3, 150.2]
styles = [dict(color=RED, ls="-"), dict(color=RED, ls=DASH),
          dict(color=RED, ls=DOT), dict(color="black", ls="-"),
          dict(color="#bebebe", ls="-")]
for label, yy, st in zip(legend_labels, row_y, styles):
    lx0, ly = ax_xy(237, yy)
    lx1, _ = ax_xy(274, yy)
    ax.add_line(Line2D([lx0, lx1], [ly, ly], transform=ax.transAxes,
                       color=st["color"], ls=st["ls"], lw=LW, zorder=11))
    tx, ty = ax_xy(291, yy)
    t = ax.text(tx, ty, label, transform=ax.transAxes, fontsize=15.3,
                va="center", ha="left", color="black", zorder=12,
                clip_on=True)
    t.set_clip_path(box)

fig.savefig("out.png", dpi=100)
